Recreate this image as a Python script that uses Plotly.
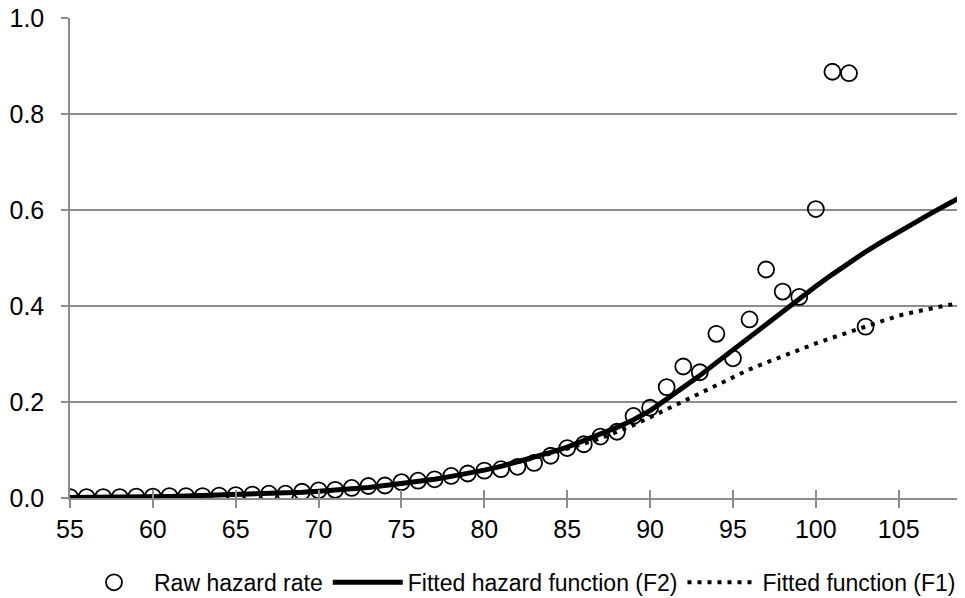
import plotly.graph_objects as go

ages_raw = list(range(55, 104))
raw_hazard = [0.002, 0.002, 0.002, 0.002, 0.003, 0.003, 0.004, 0.004, 0.004, 0.005,
              0.006, 0.007, 0.009, 0.009, 0.013, 0.016, 0.017, 0.021, 0.025, 0.026,
              0.033, 0.036, 0.039, 0.046, 0.051, 0.057, 0.060, 0.065, 0.073, 0.088,
              0.104, 0.112, 0.128, 0.138, 0.171, 0.188, 0.231, 0.274, 0.262, 0.342,
              0.291, 0.372, 0.476, 0.430, 0.419, 0.602, 0.888, 0.885, 0.357]

ages_fit = list(range(55, 110))
fit_f2 = [0.001, 0.001, 0.002, 0.002, 0.002, 0.003, 0.003, 0.004, 0.005, 0.005,
          0.006, 0.007, 0.009, 0.010, 0.012, 0.014, 0.016, 0.019, 0.022, 0.026,
          0.030, 0.034, 0.039, 0.045, 0.051, 0.058, 0.066, 0.075, 0.084, 0.095,
          0.106, 0.119, 0.132, 0.147, 0.163, 0.182, 0.206, 0.230, 0.255, 0.282,
          0.309, 0.336, 0.362, 0.389, 0.415, 0.441, 0.466, 0.490, 0.513, 0.534,
          0.555, 0.575, 0.594, 0.613, 0.631]
fit_f1 = [0.001, 0.001, 0.002, 0.002, 0.002, 0.003, 0.003, 0.004, 0.005, 0.005,
          0.006, 0.007, 0.009, 0.010, 0.012, 0.014, 0.016, 0.019, 0.022, 0.026,
          0.030, 0.034, 0.039, 0.045, 0.051, 0.058, 0.066, 0.074, 0.083, 0.093,
          0.102, 0.113, 0.124, 0.137, 0.152, 0.168, 0.185, 0.202, 0.219, 0.236,
          0.253, 0.268, 0.282, 0.296, 0.309, 0.322, 0.334, 0.346, 0.357, 0.369,
          0.380, 0.388, 0.396, 0.402, 0.408]

x_ticks = [55, 60, 65, 70, 75, 80, 85, 90, 95, 100, 105]
y_ticks = [0.0, 0.2, 0.4, 0.6, 0.8, 1.0]
y_tick_labels = ["0.0", "0.2", "0.4", "0.6", "0.8", "1.0"]

FONT = "Liberation Sans, Arial, sans-serif"
GRID = "#8c8c8c"

fig = go.Figure()
fig.add_trace(go.Scatter(
    x=ages_raw, y=raw_hazard, mode="markers", name="Raw hazard rate",
    marker=dict(symbol="circle-open", size=16, color="black", line=dict(width=1.8)),
))
fig.add_trace(go.Scatter(
    x=ages_fit, y=fit_f2, mode="lines", name="Fitted hazard function (F2)",
    line=dict(color="black", width=5),
))
fig.add_trace(go.Scatter(
    x=ages_fit, y=fit_f1, mode="lines", name="Fitted function (F1)",
    line=dict(color="black", width=4, dash="4px,6px"),
))
# invisible helper trace so the overlay axis (inner tick halves) is drawn
fig.add_trace(go.Scatter(
    x=ages_fit, y=fit_f1, mode="lines", xaxis="x2", showlegend=False,
    hoverinfo="skip", line=dict(color="rgba(0,0,0,0)", width=0),
))

# page body has an 8px margin, so the figure is offset by 8px in the window
fig.update_layout(
    width=957, height=598,
    margin=dict(l=62, r=0, t=10, b=108, autoexpand=False),
    plot_bgcolor="white", paper_bgcolor="white",
    font=dict(family=FONT, size=25, color="black"),
    showlegend=True,
    legend=dict(orientation="h", x=0.5, xanchor="center", y=-0.131, yanchor="top",
                font=dict(family=FONT, size=23, color="black"),
                itemwidth=70, tracegroupgap=0),
    xaxis=dict(range=[55, 109], tickvals=x_ticks, ticktext=[str(v) for v in x_ticks],
               showgrid=False, zeroline=False, showline=True, linecolor=GRID, linewidth=1.5,
               ticks="outside", ticklen=8, tickwidth=1.5, tickcolor=GRID,
               ticklabeloverflow="allow",
               tickfont=dict(family=FONT, size=25, color="black")),
    xaxis2=dict(range=[55, 109], overlaying="x", anchor="y", side="bottom",
                tickvals=x_ticks, showticklabels=False, showgrid=False, zeroline=False,
                showline=False, ticks="inside", ticklen=8, tickwidth=1.5, tickcolor=GRID),
    yaxis=dict(range=[0, 1], tickvals=y_ticks, ticktext=y_tick_labels,
               showgrid=True, gridcolor=GRID, gridwidth=1.5, zeroline=False,
               showline=True, linecolor=GRID, linewidth=1.5,
               ticks="outside", ticklen=7, tickwidth=1.5, tickcolor=GRID,
               ticklabelstandoff=12, ticklabeloverflow="allow",
               tickfont=dict(family=FONT, size=25, color="black")),
)

fig.write_html("out.html")
